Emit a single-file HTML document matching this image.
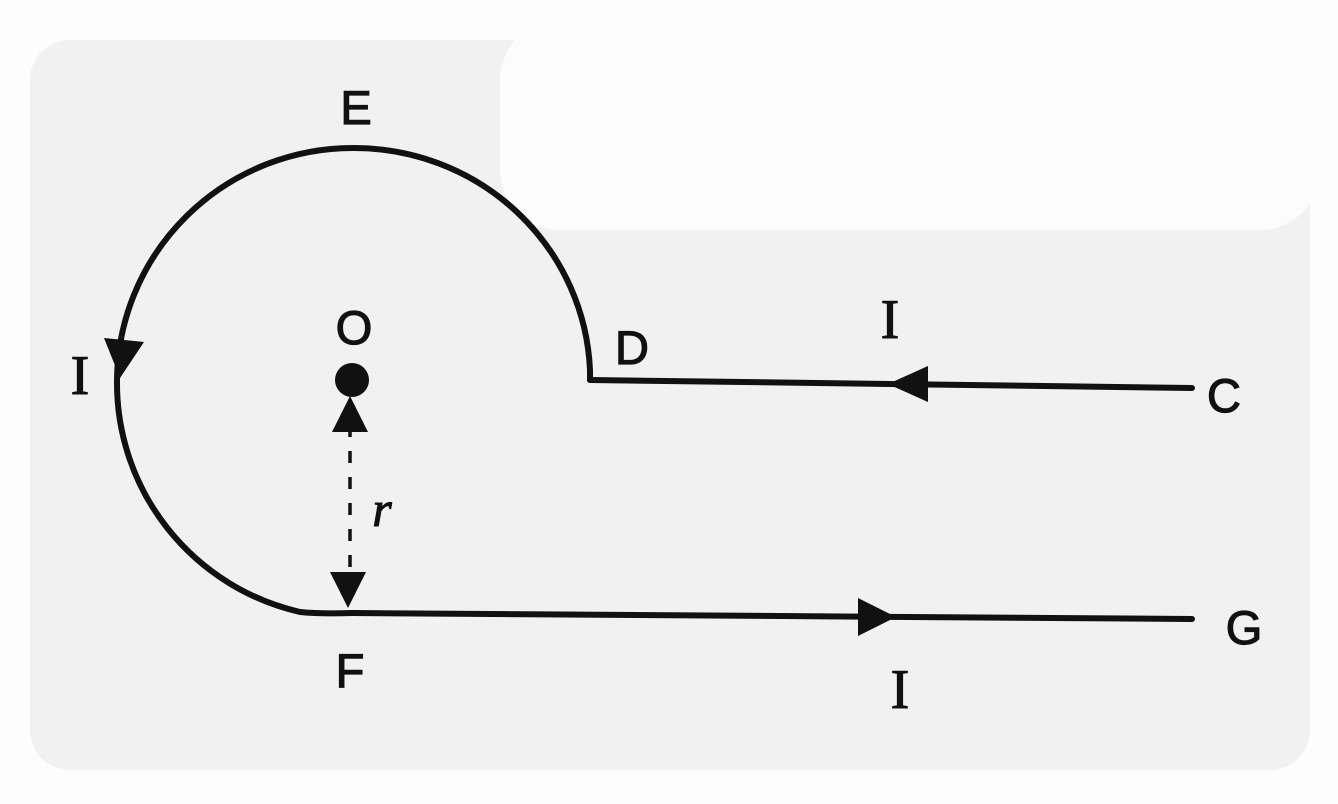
<!DOCTYPE html>
<html><head><meta charset="utf-8"><style>
html,body{margin:0;padding:0;background:#fff;}
svg{display:block;}
</style></head><body>
<svg width="1338" height="804" viewBox="0 0 1338 804" xmlns="http://www.w3.org/2000/svg">
<rect x="0" y="0" width="1338" height="804" fill="#fdfdfd"/>
<rect x="30" y="40" width="1280" height="730" rx="40" fill="#f1f1f1"/>
<rect x="500" y="20" width="820" height="210" rx="60" fill="#fcfcfc"/>
<g stroke="#111" stroke-width="6" fill="none" stroke-linecap="round">
<path d="M590 380 L590 370 A236 232 0 0 0 354 148 A236 234 0 0 0 117 380 A236 235 0 0 0 300 612 Q320 614 352 613"/>
<line x1="590" y1="380" x2="1192" y2="388"/>
<line x1="352" y1="613" x2="1192" y2="619"/>
</g>
<g stroke="#111" stroke-width="3.5" stroke-dasharray="12 14">
<line x1="350" y1="425" x2="350" y2="585"/>
</g>
<circle cx="352" cy="380" r="17" fill="#111"/>
<g fill="#111">
<polygon points="104,338 144,342 120,378"/>
<polygon points="888,384 928,366 928,402"/>
<polygon points="896,617 858,598 858,636"/>
<polygon points="350,396 332,432 368,432"/>
<polygon points="348,608 330,572 366,572"/>
</g>
<g font-family="Liberation Sans, sans-serif" font-size="47" fill="#111" text-anchor="middle" stroke="#111" stroke-width="1.2">
<text x="356" y="124">E</text>
<text x="354" y="344">O</text>
<text x="632" y="364">D</text>
<text x="1224" y="412">C</text>
<text x="350" y="687">F</text>
<text x="1244" y="644">G</text>
</g>
<g font-family="Liberation Serif, serif" font-size="56" fill="#111" text-anchor="middle" stroke="#111" stroke-width="1">
<text x="890" y="338">I</text>
<text x="80" y="394">I</text>
<text x="900" y="708">I</text>
<text x="382" y="526" font-style="italic" font-size="50">r</text>
</g>
</svg>
</body></html>
